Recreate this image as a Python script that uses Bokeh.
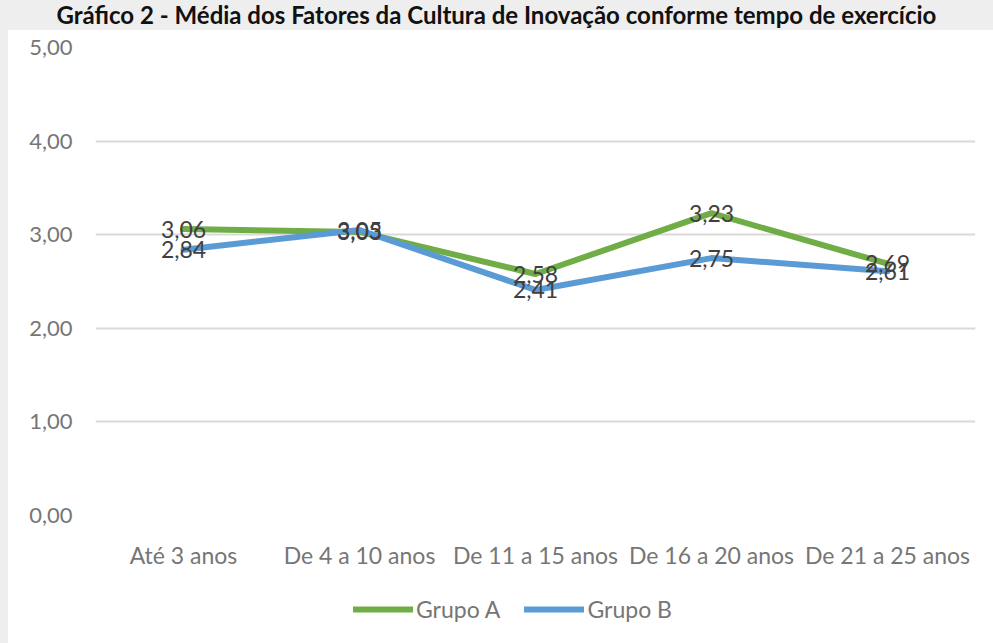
from bokeh.plotting import figure
from bokeh.models import (FactorRange, Range1d, Legend, LegendItem, ColumnDataSource,
                          FixedTicker, Div, Column)
from bokeh.core.properties import value
from bokeh.embed import file_html
from bokeh.resources import INLINE

# ---- data ----
title_text = "Gráfico 2 - Média dos Fatores da Cultura de Inovação conforme tempo de exercício"
categories = ["Até 3 anos", "De 4 a 10 anos", "De 11 a 15 anos", "De 16 a 20 anos", "De 21 a 25 anos"]
grupo_a = [3.06, 3.03, 2.58, 3.23, 2.69]
grupo_b = [2.84, 3.05, 2.41, 2.75, 2.61]
series_names = ["Grupo A", "Grupo B"]
y_ticks = [0, 1, 2, 3, 4, 5]
y_tick_labels = ["0,00", "1,00", "2,00", "3,00", "4,00", "5,00"]

FONT = "Lato"
GREEN = "#70AD47"
BLUE = "#5B9BD5"
TITLE_H = 30
MAIN_BOTTOM = 575          # page y where the legend strip starts
TOTAL_H = 643

title = Div(text=title_text, width=993, height=TITLE_H, margin=(0, 0, 0, 0),
            styles={"font-family": FONT, "font-weight": "bold", "font-size": "24px",
                    "color": "#111111", "text-align": "center", "line-height": "30px",
                    "width": "993px", "white-space": "nowrap"})

p = figure(width=985, height=MAIN_BOTTOM - TITLE_H, margin=(0, 0, 0, 8),
           x_range=FactorRange(factors=categories, range_padding=0),
           y_range=Range1d(0, 5), output_backend="svg", toolbar_location=None,
           min_border_left=87, min_border_right=18, min_border_top=47 - TITLE_H,
           min_border_bottom=MAIN_BOTTOM - 515)
p.border_fill_color = "white"
p.background_fill_color = "white"
p.outline_line_color = None
p.styles = {"background-color": "white"}

# axes
p.yaxis.ticker = FixedTicker(ticks=y_ticks)
p.yaxis.major_label_overrides = {t: l for t, l in zip(y_ticks, y_tick_labels)}
for ax in (p.xaxis[0], p.yaxis[0]):
    ax.axis_line_color = None
    ax.major_tick_line_color = None
    ax.minor_tick_line_color = None
    ax.major_tick_out = 0
    ax.major_tick_in = 0
    ax.major_label_text_font = FONT
    ax.major_label_text_color = "#767676"
p.yaxis.major_label_text_font_size = "22px"
p.xaxis.major_label_text_font_size = "23px"
p.yaxis.major_label_standoff = 23
p.xaxis.major_label_standoff = 25

p.xgrid.grid_line_color = None
p.ygrid.grid_line_color = "#d9d9d9"
p.ygrid.grid_line_width = 2

src = ColumnDataSource(dict(x=categories, a=grupo_a, b=grupo_b,
                            la=[f"{v:.2f}".replace(".", ",") for v in grupo_a],
                            lb=[f"{v:.2f}".replace(".", ",") for v in grupo_b]))

p.line("x", "a", source=src, line_color=GREEN, line_width=6, line_join="round", line_cap="round")
p.line("x", "b", source=src, line_color=BLUE, line_width=6, line_join="round", line_cap="round")

p.text("x", "a", text="la", source=src, text_font=value(FONT), text_font_size="23px",
       text_color="#404040", text_align="center", text_baseline="middle")
p.text("x", "b", text="lb", source=src, text_font=value(FONT), text_font_size="23px",
       text_color="#404040", text_align="center", text_baseline="middle")

# legend strip (separate small figure so the legend is not clipped);
# its lines reuse the series but lie outside the strip's visible y-range
pl = figure(width=985, height=TOTAL_H - MAIN_BOTTOM, margin=(0, 0, 0, 8),
            x_range=FactorRange(factors=categories, range_padding=0), y_range=Range1d(100, 101),
            x_axis_type=None, y_axis_type=None,
            output_backend="svg", toolbar_location=None, min_border=0)
pl.border_fill_color = "white"
pl.background_fill_color = "white"
pl.outline_line_color = None
pl.grid.visible = False
pl.styles = {"background-color": "white"}
la = pl.line("x", "a", source=src, line_color=GREEN, line_width=6, line_cap="round")
lb = pl.line("x", "b", source=src, line_color=BLUE, line_width=6, line_cap="round")

legend = Legend(items=[LegendItem(label=series_names[0], renderers=[la]),
                       LegendItem(label=series_names[1], renderers=[lb])],
                orientation="horizontal", location=(258, 20),
                glyph_width=60, glyph_height=20, label_standoff=3, spacing=24,
                padding=0, margin=0, border_line_color=None, background_fill_alpha=0,
                label_text_font=FONT, label_text_font_size="23px", label_text_color="#767676")
pl.add_layout(legend, "center")

layout = Column(children=[title, p, pl], width=993, height=TOTAL_H, spacing=0,
                styles={"background-color": "#eeeeee"})

open("out.html", "w").write(file_html(layout, INLINE))
